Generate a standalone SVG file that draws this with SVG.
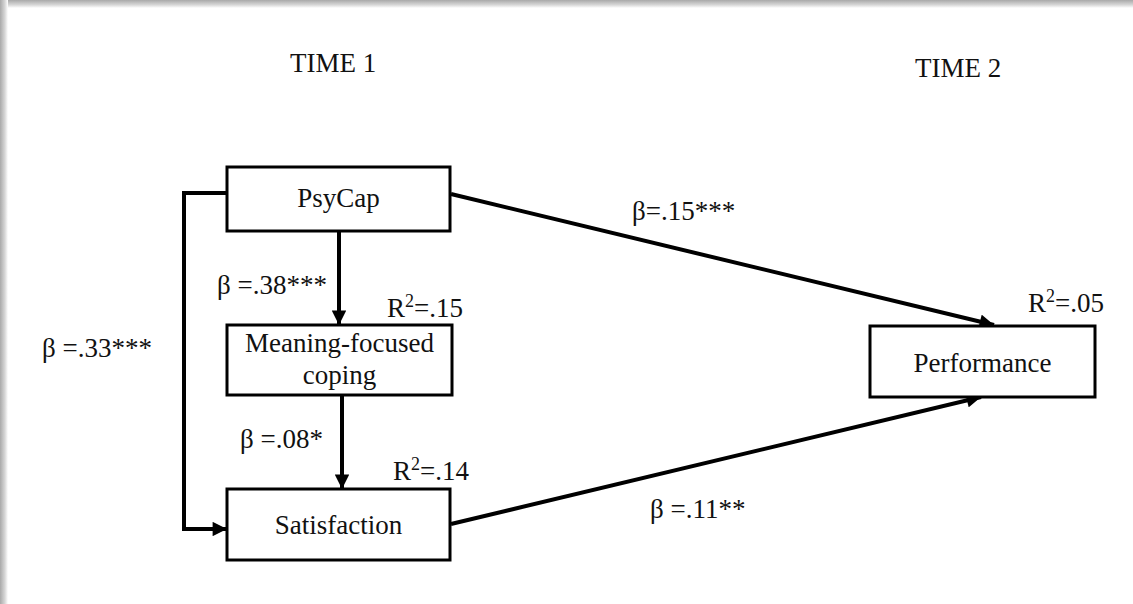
<svg xmlns="http://www.w3.org/2000/svg" width="1133" height="604" viewBox="0 0 1133 604">
  <defs>
    <linearGradient id="shadeTop" x1="0" y1="0" x2="0" y2="1">
      <stop offset="0" stop-color="#a9a9a9"/>
      <stop offset="0.6" stop-color="#d6d6d6"/>
      <stop offset="1" stop-color="#ffffff"/>
    </linearGradient>
    <linearGradient id="shadeLeft" x1="0" y1="0" x2="1" y2="0">
      <stop offset="0" stop-color="#a9a9a9"/>
      <stop offset="0.6" stop-color="#d6d6d6"/>
      <stop offset="1" stop-color="#ffffff"/>
    </linearGradient>
    <marker id="arrow" viewBox="0 0 10 10" refX="10" refY="5" markerWidth="4" markerHeight="3.6" orient="auto" markerUnits="strokeWidth">
      <path d="M0,0 L10,5 L0,10 z" fill="#000"/>
    </marker>
    <style>
      .box { fill: #fff; stroke: #000; stroke-width: 3; }
      .lbl { font-family: "Liberation Serif", "Times New Roman", serif; font-size: 27px; fill: #111; }
      .mid { text-anchor: middle; }
      .edge { fill: none; stroke: #000; stroke-width: 4; stroke-linejoin: miter; }
      .sup { font-size: 18px; }
    </style>
  </defs>

  <!-- page background with soft frame shadow on top and left -->
  <rect x="0" y="0" width="1133" height="604" fill="#fff"/>
  <rect x="0" y="0" width="1133" height="8" fill="url(#shadeTop)"/>
  <rect x="0" y="0" width="8" height="604" fill="url(#shadeLeft)"/>

  <!-- column headings -->
  <text class="lbl" x="290" y="72">TIME 1</text>
  <text class="lbl" x="915" y="77">TIME 2</text>

  <!-- connectors -->
  <g id="connectors">
    <path class="edge" d="M227,193 H184 V529 H227" marker-end="url(#arrow)"/>
    <path class="edge" d="M339,231 V325" marker-end="url(#arrow)"/>
    <path class="edge" d="M342,395 V489" marker-end="url(#arrow)"/>
    <path class="edge" d="M451,194 L994,325" marker-end="url(#arrow)"/>
    <path class="edge" d="M451,524 L981,397" marker-end="url(#arrow)"/>
  </g>

  <!-- path coefficients -->
  <g id="coefficients">
    <text class="lbl" x="217" y="294">β =.38***</text>
    <text class="lbl" x="240" y="448">β =.08*</text>
    <text class="lbl" x="42" y="357">β =.33***</text>
    <text class="lbl" x="632" y="220">β=.15***</text>
    <text class="lbl" x="650" y="518">β =.11**</text>
  </g>

  <!-- nodes -->
  <g id="psycap">
    <rect class="box" x="227" y="167" width="223" height="64"/>
    <text class="lbl mid" x="338.5" y="207">PsyCap</text>
  </g>

  <g id="meaning-focused-coping">
    <rect class="box" x="227" y="325" width="225" height="70"/>
    <text class="lbl mid" x="339.5" y="352">Meaning-focused</text>
    <text class="lbl mid" x="339.5" y="384">coping</text>
    <text class="lbl" x="387" y="317">R<tspan class="sup" dy="-10">2</tspan><tspan dy="10">=.15</tspan></text>
  </g>

  <g id="satisfaction">
    <rect class="box" x="227" y="489" width="223" height="71"/>
    <text class="lbl mid" x="338.5" y="534">Satisfaction</text>
    <text class="lbl" x="393" y="480">R<tspan class="sup" dy="-10">2</tspan><tspan dy="10">=.14</tspan></text>
  </g>

  <g id="performance">
    <rect class="box" x="870" y="326" width="225" height="71"/>
    <text class="lbl mid" x="982.5" y="372">Performance</text>
    <text class="lbl" x="1028" y="312">R<tspan class="sup" dy="-10">2</tspan><tspan dy="10">=.05</tspan></text>
  </g>
</svg>
